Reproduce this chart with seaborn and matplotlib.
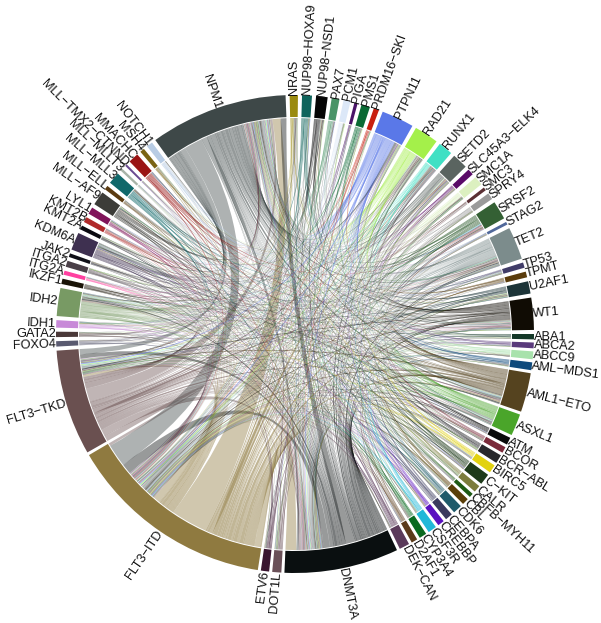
import matplotlib
matplotlib.use("Agg")
import matplotlib.pyplot as plt
import numpy as np
import seaborn as sns
from matplotlib.patches import PathPatch, Wedge
from matplotlib.path import Path

SECTORS = ["ABA1", "ABCA2", "ABCC9", "AML-MDS1", "AML1-ETO", "ASXL1", "ATM", "BCOR", "BCR-ABL", "BIRC5",
           "C-KIT", "CALR", "CBFB-MYH11", "CBL", "CDK6", "CEBPA", "CREBBP", "CSF3R", "CYP3A4", "D2AF1",
           "DEK-CAN", "DNMT3A", "DOT1L", "ETV6", "FLT3-ITD", "FLT3-TKD", "FOXO4", "GATA2", "IDH1", "IDH2",
           "IKZF1", "ITG2A", "ITGA2", "JAK2", "KDM6A", "KMT2A", "KMT2B", "LYL1", "MLL-AF9", "MLL-ELL",
           "MLL-MLL3", "MLL-MLLT3", "MLL-TMX2-CTNND", "MMACHC", "MSH4", "NOTCH1", "NPM1", "NRAS", "NUP98-HOXA9", "NUP98-NSD1",
           "PAX7", "PCM1", "PIGA", "PMS1", "PRDM16-SKI", "PTPN11", "RAD21", "RUNX1", "SETD2", "SLC45A3-ELK4",
           "SMC1A", "SMC3", "SPRY4", "SRSF2", "STAG2", "TET2", "TP53", "TPMT", "U2AF1", "WT1"]

SECTOR_SIZES = [1.3, 1.4, 1.9, 1.9, 9.5, 5.3, 1.8, 1.5, 2.1, 2.0,
                2.7, 1.7, 1.0, 1.6, 2.2, 1.8, 1.6, 2.1, 1.8, 1.5,
                2.5, 27.8, 2.2, 2.0, 50.6, 25.7, 1.3, 1.3, 1.8, 6.8,
                1.3, 1.0, 1.5, 0.9, 4.3, 1.0, 1.3, 1.7, 3.4, 1.0,
                2.9, 0.6, 0.5, 2.5, 1.1, 1.5, 33.5, 2.0, 2.4, 2.8,
                1.9, 1.7, 0.8, 2.1, 1.3, 7.9, 5.9, 3.5, 3.8, 1.5,
                2.2, 0.8, 1.6, 4.5, 0.7, 7.9, 1.3, 1.4, 3.0, 7.8]

SECTOR_COLORS = ["#143828", "#5a3a7c", "#a8e2ac", "#0f4a7c", "#55431f", "#4aa52a", "#0a0a0a", "#7a2a3a", "#28282c", "#e2d210",
                 "#1e3a1a", "#7c7c3c", "#1e5a14", "#5a3e08", "#1f5a6a", "#3a3a5e", "#5a10c0", "#20b8d8", "#0a6a20", "#5a3a1a",
                 "#5a3a5a", "#0a0f10", "#6a5058", "#3a1530", "#8f7a40", "#6a5050", "#5a5a70", "#4a3838", "#c88ad8", "#789a64",
                 "#1a1408", "#ff40a0", "#4a4048", "#101018", "#3e3050", "#0a0a10", "#b02a2a", "#80145a", "#3c3c38", "#5a3a10",
                 "#10686a", "#a8b4a8", "#6a4a90", "#9a1414", "#7a6414", "#b8cce4", "#3e4848", "#9a8a10", "#10645c", "#050505",
                 "#4a9468", "#dce8f8", "#4a1468", "#0a6a34", "#c82010", "#5a78e8", "#a4f04a", "#40e0c4", "#5a6460", "#5a0a68",
                 "#dcf0c0", "#5a3034", "#9a9a9a", "#346034", "#50689a", "#7c8c8c", "#403c68", "#5a3c0c", "#1c3438", "#100c04"]

# (source, target, width at source, width at target), degrees
BANDS = [("DNMT3A", "FLT3-TKD", 2.0, 2.0), ("NPM1", "FLT3-TKD", 3.0, 2.5),
         ("FLT3-TKD", "FLT3-ITD", 2.5, 1.2), ("FLT3-ITD", "FLT3-TKD", 3.0, 1.0),
         ("FLT3-TKD", "DNMT3A", 3.0, 1.0), ("FLT3-TKD", "NPM1", 6.0, 1.5),
         ("DNMT3A", "FLT3-ITD", 4.0, 4.5), ("FLT3-ITD", "DNMT3A", 2.5, 7.0),
         ("NPM1", "DNMT3A", 3.0, 1.5), ("NPM1", "FLT3-ITD", 11.0, 10.0),
         ("FLT3-ITD", "NPM1", 16.0, 5.0), ("DNMT3A", "NPM1", 6.0, 3.5)]

# outgoing thin links of the large sectors, one digit per sector in SECTORS order
NPM1_ROW = "1112531111" "1111211111" "2011001125" "1111311121" "1112110213" "1111154231" "1113161125"
DNMT3A_ROW = "1121431211" "1111211111" "1011001216" "1111211121" "1111110213" "1111114322" "2112161124"
ITD_ROW = "1111521111" "1111111111" "1011001214" "1111211111" "1111110213" "1111116423" "2112151125"
TKD_ROW = "1011311101" "1011101110" "1001001113" "0110201111" "1011100102" "1101014211" "1011141113"
TET2_ROW = "1011210101" "0101010110" "1411330102" "0100100101" "0100104101" "0101012101" "0101001012"
WT1_ROW = "0101200110" "1010101011" "0311330101" "1010100101" "1010004012" "1010013120" "1010103010"
IDH2_ROW = "1010100011" "0100100100" "0211330000" "0100010101" "0010004101" "0100102110" "0100102011"
ETO_ROW = "0100010100" "1010010011" "0310330001" "0101001010" "1000103100" "0010011121" "0010111001"
ASXL1_ROW = "0101000110" "0101000100" "0210220012" "0010100100" "0100003010" "0100112010" "1010101012"
RAD21_ROW = "1010100010" "0100101000" "0210320101" "0010010010" "0010103101" "0101010011" "0100012012"
PTPN11_ROW = "0100101001" "1010010001" "0310330011" "0100001100" "0101003010" "1010001100" "0101012101"
LARGE_SOURCES = ["NPM1", "DNMT3A", "FLT3-ITD", "FLT3-TKD", "TET2", "WT1", "IDH2", "AML1-ETO", "ASXL1", "RAD21", "PTPN11"]
LARGE_ROWS = [NPM1_ROW, DNMT3A_ROW, ITD_ROW, TKD_ROW, TET2_ROW, WT1_ROW, IDH2_ROW, ETO_ROW, ASXL1_ROW, RAD21_ROW, PTPN11_ROW]
LARGE_TAPER = [0.5, 0.55, 0.35, 0.45, 0.6, 0.6, 0.6, 0.6, 0.6, 0.6, 0.6]

# partners of the small sectors
THIN_PARTNERS = {
    "ABA1": "NPM1 DNMT3A FLT3-ITD TET2 WT1 KDM6A",
    "ABCA2": "NPM1 FLT3-ITD FLT3-TKD IDH2 RUNX1 SRSF2",
    "ABCC9": "NPM1 DNMT3A FLT3-ITD ASXL1 WT1 SETD2 PTPN11",
    "AML-MDS1": "DNMT3A FLT3-ITD NPM1 U2AF1 RAD21 TET2",
    "ATM": "NPM1 FLT3-ITD FLT3-TKD DNMT3A IDH2 KDM6A",
    "BCOR": "DNMT3A NPM1 RUNX1 SRSF2 FLT3-ITD STAG2",
    "BCR-ABL": "FLT3-ITD ASXL1 DNMT3A NPM1 TET2 RUNX1 KDM6A",
    "BIRC5": "NPM1 FLT3-ITD DNMT3A WT1 IDH1 PTPN11",
    "C-KIT": "AML1-ETO NPM1 DNMT3A FLT3-TKD TET2 KMT2A RAD21",
    "CALR": "TET2 ASXL1 JAK2 NPM1 FLT3-ITD U2AF1",
    "CBFB-MYH11": "NPM1 FLT3-ITD FLT3-TKD NRAS KDM6A",
    "CBL": "DNMT3A FLT3-ITD NPM1 RUNX1 SRSF2 TET2",
    "CDK6": "NPM1 FLT3-ITD DNMT3A IDH2 WT1 MLL-AF9 PTPN11",
    "CEBPA": "FLT3-ITD GATA2 WT1 NPM1 DNMT3A TET2 NRAS",
    "CREBBP": "NPM1 DNMT3A FLT3-ITD KDM6A SETD2 PTPN11",
    "CSF3R": "FLT3-ITD NPM1 WT1 ASXL1 DNMT3A RUNX1 TET2",
    "CYP3A4": "DNMT3A NPM1 FLT3-ITD IDH1 FLT3-TKD SMC1A",
    "D2AF1": "NPM1 FLT3-ITD ASXL1 TET2 IDH2 DNMT3A RAD21",
    "DEK-CAN": "FLT3-ITD FLT3-TKD NPM1 WT1 KMT2B NRAS DNMT3A",
    "DOT1L": "NPM1 FLT3-ITD DNMT3A TET2 RAD21 ASXL1",
    "ETV6": "NPM1 DNMT3A FLT3-TKD RUNX1 IDH2 WT1",
    "FOXO4": "FLT3-ITD NPM1 DNMT3A RAD21 TET2 PAX7",
    "GATA2": "FLT3-ITD NPM1 WT1 DNMT3A NRAS KDM6A",
    "IDH1": "NPM1 DNMT3A FLT3-ITD FLT3-TKD RAD21 SRSF2 PTPN11 WT1",
    "IKZF1": "FLT3-ITD NPM1 TET2 DNMT3A JAK2 RUNX1",
    "ITG2A": "NPM1 FLT3-ITD DNMT3A WT1 SMC3",
    "ITGA2": "FLT3-ITD NPM1 DNMT3A ABCC9 TP53 TET2",
    "JAK2": "NPM1 FLT3-ITD TET2 ASXL1 CALR",
    "KDM6A": "NPM1 DNMT3A FLT3-ITD FLT3-TKD IDH2 TET2 WT1 PTPN11 RAD21 ASXL1 RUNX1",
    "KMT2A": "NPM1 FLT3-ITD DNMT3A FLT3-TKD NRAS",
    "KMT2B": "DNMT3A NPM1 FLT3-ITD TET2 SETD2 CREBBP",
    "LYL1": "NPM1 FLT3-ITD FLT3-TKD DNMT3A WT1 AML1-ETO",
    "MLL-AF9": "NPM1 FLT3-ITD DNMT3A WT1 NRAS PTPN11 KDM6A AML1-ETO",
    "MLL-ELL": "FLT3-ITD DNMT3A NPM1 TET2",
    "MLL-MLL3": "NPM1 FLT3-ITD DNMT3A FLT3-TKD IDH2 TET2 WT1 ASXL1",
    "MLL-MLLT3": "FLT3-ITD NPM1 DNMT3A",
    "MLL-TMX2-CTNND": "NPM1 FLT3-ITD DNMT3A",
    "MMACHC": "FLT3-ITD NPM1 DNMT3A TET2 ASXL1 SRSF2 WT1",
    "MSH4": "NPM1 DNMT3A FLT3-ITD RAD21",
    "NOTCH1": "NPM1 FLT3-ITD DNMT3A TET2 WT1",
    "NRAS": "NPM1 DNMT3A FLT3-ITD FLT3-TKD TET2 IDH2 RUNX1",
    "NUP98-HOXA9": "FLT3-ITD NPM1 WT1 DNMT3A TET2 IDH1 AML1-ETO",
    "NUP98-NSD1": "FLT3-ITD WT1 NPM1 DNMT3A FLT3-TKD ASXL1 PTPN11 NRAS",
    "PAX7": "NPM1 DNMT3A FLT3-ITD TET2 IDH2 KDM6A",
    "PCM1": "FLT3-ITD NPM1 DNMT3A WT1 RAD21 SETD2",
    "PIGA": "NPM1 FLT3-ITD DNMT3A",
    "PMS1": "FLT3-ITD DNMT3A NPM1 ASXL1 TET2 IDH1",
    "PRDM16-SKI": "NPM1 FLT3-ITD DNMT3A WT1",
    "RUNX1": "NPM1 DNMT3A FLT3-ITD FLT3-TKD TET2 IDH2 ASXL1 SRSF2 WT1",
    "SETD2": "NPM1 DNMT3A FLT3-ITD FLT3-TKD TET2 WT1 IDH2 PTPN11 KDM6A",
    "SLC45A3-ELK4": "FLT3-ITD NPM1 DNMT3A TET2 WT1 RUNX1",
    "SMC1A": "NPM1 DNMT3A FLT3-ITD FLT3-TKD IDH2 ASXL1",
    "SMC3": "NPM1 FLT3-ITD DNMT3A IDH1",
    "SPRY4": "NPM1 DNMT3A FLT3-ITD WT1 TET2 ASXL1",
    "SRSF2": "NPM1 DNMT3A FLT3-ITD FLT3-TKD TET2 ASXL1 IDH2 RUNX1 RAD21 WT1",
    "STAG2": "NPM1 DNMT3A FLT3-TKD",
    "TP53": "DNMT3A NPM1 FLT3-ITD TET2 ASXL1 KDM6A",
    "TPMT": "FLT3-ITD NPM1 DNMT3A WT1 RAD21 AML1-ETO",
    "U2AF1": "NPM1 DNMT3A FLT3-ITD FLT3-TKD ASXL1 TET2 IDH2 RUNX1",
}

RING_OUTER = 239
RING_INNER = 217
LINK_RADIUS = 216
GAP_LOWER = 0.74  # gap after each sector up to FLT3-ITD
LOWER_COUNT = 25
DIGIT_WIDTH = 0.3
THIN_WIDTH = 0.4
THIN_TAPER = 0.5
BAND_ALPHA = 0.42
THIN_ALPHA = 0.55
CONTROL_PULL = 0.05


def polar(angle, radius):
    a = np.radians(angle)
    return radius * np.cos(a), -radius * np.sin(a)


def control_point(a, b):
    """Control point of a chord edge, just beyond the circle centre."""
    mid = a + ((b - a + 180) % 360 - 180) / 2
    return polar(mid, -LINK_RADIUS * CONTROL_PULL)


def arc_points(a, b):
    return [polar(t, LINK_RADIUS) for t in np.linspace(a, b, 6)]


def link_path(a1, a2, b1, b2):
    verts = arc_points(a1, a2)
    codes = [Path.MOVETO] + [Path.LINETO] * 5
    verts += [control_point(a2, b1), polar(b1, LINK_RADIUS)]
    codes += [Path.CURVE3, Path.CURVE3]
    verts += arc_points(b1, b2)[1:]
    codes += [Path.LINETO] * 5
    verts += [control_point(b2, a1), polar(a1, LINK_RADIUS)]
    codes += [Path.CURVE3, Path.CURVE3]
    return Path(verts, codes)


def collect_links():
    links = list(BANDS)
    for source, row, taper in zip(LARGE_SOURCES, LARGE_ROWS, LARGE_TAPER):
        for target, digit in zip(SECTORS, row):
            if int(digit) > 0 and target != source:
                w = int(digit) * DIGIT_WIDTH
                links.append((source, target, w, w * taper))
    for source, partners in THIN_PARTNERS.items():
        for target in partners.split():
            links.append((source, target, THIN_WIDTH, THIN_WIDTH * THIN_TAPER))
    return links


def layout_sectors():
    rest = 360 - sum(SECTOR_SIZES) - GAP_LOWER * LOWER_COUNT
    gap_upper = rest / (len(SECTORS) - LOWER_COUNT)
    starts = {}
    angle = 0.0
    for i, (name, size) in enumerate(zip(SECTORS, SECTOR_SIZES)):
        starts[name] = angle
        angle += size + (GAP_LOWER if i < LOWER_COUNT else gap_upper)
    return starts


starts = layout_sectors()
sizes = dict(zip(SECTORS, SECTOR_SIZES))
colors = dict(zip(SECTORS, SECTOR_COLORS))
links = collect_links()

# every end of a link gets its slot inside the sector: outgoing, thin incoming, wide incoming
ends = {name: [] for name in SECTORS}
for i, (source, target, w_source, w_target) in enumerate(links):
    offset = (starts[target] - starts[source]) % 360
    ends[source].append((0, -offset, w_source, i, 0))
    offset = (starts[source] - starts[target]) % 360
    rank = 2 if w_target > 1 else 1
    ends[target].append((rank, -offset, w_target, i, 1))

slots = {}
for name, items in ends.items():
    items.sort()
    total = sum(item[2] for item in items)
    scale = sizes[name] / total if total else 0
    angle = starts[name]
    for rank, _, width, i, side in items:
        slots[(i, side)] = (angle, angle + width * scale)
        angle += width * scale

sns.set_theme(style="white")
plt.rcParams["font.family"] = ["Liberation Sans", "DejaVu Sans"]

fig = plt.figure(figsize=(6.01, 6.23), dpi=100)
ax = fig.add_axes([0, 0, 1, 1])
ax.set_xlim(-295, 306)
ax.set_ylim(-289, 334)
ax.set_aspect("equal")
ax.set_axis_off()

for i, link in enumerate(links):
    a1, a2 = slots[(i, 0)]
    b1, b2 = slots[(i, 1)]
    alpha = BAND_ALPHA if i < len(BANDS) else THIN_ALPHA
    ax.add_patch(PathPatch(link_path(a1, a2, b1, b2), facecolor=colors[link[0]],
                           edgecolor="none", alpha=alpha, zorder=1))

for name in SECTORS:
    start = starts[name]
    end = start + sizes[name]
    ax.add_patch(Wedge((0, 0), RING_OUTER, -end, -start, width=RING_OUTER - RING_INNER,
                       facecolor=colors[name], edgecolor="none", zorder=2))
    middle = (start + end) / 2
    x, y = polar(middle, RING_OUTER)
    flip = 90 < middle < 269
    ax.text(x, y, name.replace("-", "\u2212"), fontsize=9.2, color="#111111",
            rotation=180 - middle if flip else -middle, rotation_mode="anchor",
            ha="right" if flip else "left", va="center", zorder=3)

fig.savefig("out.png", dpi=100)
plt.close(fig)
